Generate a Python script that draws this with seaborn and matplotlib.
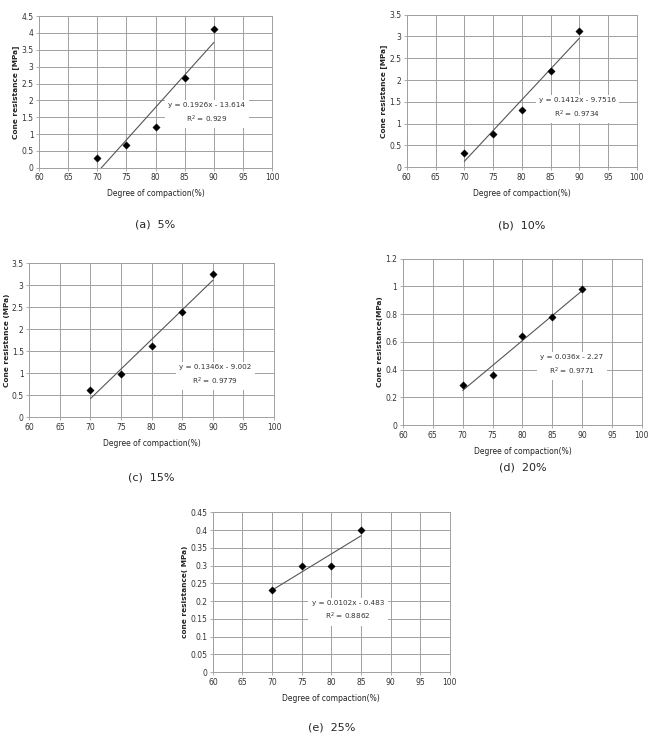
import numpy as np
import pandas as pd
import seaborn as sns
from matplotlib import pyplot as plt

# Data
compaction = [70, 75, 80, 85, 90]
cone_5 = [0.28, 0.68, 1.20, 2.67, 4.12]
cone_10 = [0.33, 0.76, 1.30, 2.21, 3.12]
cone_15 = [0.61, 0.97, 1.61, 2.38, 3.25]
cone_20 = [0.29, 0.36, 0.64, 0.78, 0.98]
compaction_25 = [70, 75, 80, 85]
cone_25 = [0.23, 0.30, 0.30, 0.40]

# trendline coefficients shown on the charts
slopes = [0.1926, 0.1412, 0.1346, 0.036, 0.0102]
intercepts = [-13.614, -9.7516, -9.002, -2.27, -0.483]
eq_texts = ["y = 0.1926x - 13.614\nR$^2$ = 0.929",
            "y = 0.1412x - 9.7516\nR$^2$ = 0.9734",
            "y = 0.1346x - 9.002\nR$^2$ = 0.9779",
            "y = 0.036x - 2.27\nR$^2$ = 0.9771",
            "y = 0.0102x - 0.483\nR$^2$ = 0.8862"]
ylabels = ["Cone resistance [MPa]", "Cone resistance [MPa]", "Cone resistance (MPa)",
           "Cone resistance(MPa)", "cone resistance( MPa)"]
captions = ["(a)  5%", "(b)  10%", "(c)  15%", "(d)  20%", "(e)  25%"]
ymax = [4.5, 3.5, 3.5, 1.2, 0.45]
ystep = [0.5, 0.5, 0.5, 0.2, 0.05]

sns.set_style("white")
plt.rcParams['font.family'] = ['DejaVu Sans']

fig = plt.figure(figsize=(6.51, 7.33), dpi=100)

# axes boxes [left, bottom, width, height]
boxes = [[0.060, 0.771, 0.358, 0.207],
         [0.625, 0.772, 0.353, 0.208],
         [0.045, 0.431, 0.376, 0.210],
         [0.619, 0.420, 0.367, 0.227],
         [0.327, 0.083, 0.364, 0.218]]
# label positions (data coords) of the equation boxes
eq_pos = [(88.8, 1.62), (89.7, 1.35), (90.4, 0.95), (88.3, 0.43), (82.8, 0.172)]
cap_y = [0.694, 0.693, 0.349, 0.362, 0.007]

datasets = [(compaction, cone_5), (compaction, cone_10), (compaction, cone_15),
            (compaction, cone_20), (compaction_25, cone_25)]

for i, (xs, ys) in enumerate(datasets):
    ax = fig.add_axes(boxes[i])
    df = pd.DataFrame({"x": xs, "y": ys})
    xfit = np.array([min(xs), max(xs)])
    fit = pd.DataFrame({"x": xfit, "y": slopes[i] * xfit + intercepts[i]})
    sns.lineplot(data=fit, x="x", y="y", ax=ax, color="#555555", linewidth=0.8, zorder=3)
    sns.scatterplot(data=df, x="x", y="y", ax=ax, marker="D", color="black", s=14,
                    edgecolor="black", linewidth=0.3, zorder=4)
    ax.set_xlim(60, 100)
    ax.set_ylim(0, ymax[i])
    ax.set_xticks(np.arange(60, 101, 5))
    yt = np.arange(0, ymax[i] + ystep[i] / 2, ystep[i])
    ax.set_yticks(yt)
    ax.set_yticklabels([f"{v:g}" for v in yt])
    ax.grid(True, color="#a0a0a0", linewidth=0.7)
    ax.set_axisbelow(True)
    for s in ax.spines.values():
        s.set_color("#a0a0a0")
        s.set_linewidth(0.7)
    ax.tick_params(axis="both", labelsize=5.5, colors="#a0a0a0", labelcolor="#333333",
                   length=2, width=0.6, pad=2, direction="out", bottom=True, left=True)
    ax.set_xlabel("Degree of compaction(%)", fontsize=5.5, color="#222222", labelpad=5)
    ax.set_ylabel(ylabels[i], fontsize=5.3, fontweight="bold", color="#222222", labelpad=1.5)
    ax.text(eq_pos[i][0], eq_pos[i][1], eq_texts[i], fontsize=5.2, color="#333333",
            ha="center", va="center", linespacing=1.6, zorder=5,
            bbox=dict(facecolor="white", edgecolor="none", pad=2.5))
    x_cap = boxes[i][0] + boxes[i][2] / 2
    fig.text(x_cap, cap_y[i], captions[i], fontsize=8, ha="center", va="center")

fig.savefig("out.png", dpi=100, facecolor="white")
